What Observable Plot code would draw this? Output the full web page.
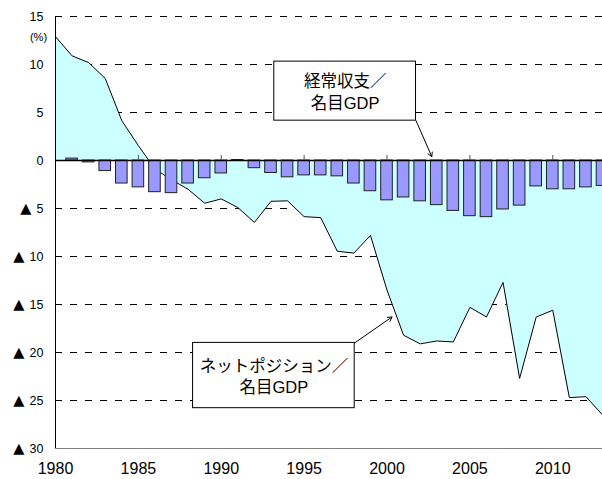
<!DOCTYPE html>
<html><head><meta charset="utf-8">
<script src="https://cdn.jsdelivr.net/npm/d3@7"></script>
<script src="https://cdn.jsdelivr.net/npm/@observablehq/plot@0.6"></script>
<style>
body{margin:0;background:#fff;}
#chart svg{display:block;}
</style>
</head><body><div id="chart"></div>
<script>
// ---- data ----
const years = [1980,1981,1982,1983,1984,1985,1986,1987,1988,1989,1990,1991,1992,1993,1994,1995,1996,1997,1998,1999,2000,2001,2002,2003,2004,2005,2006,2007,2008,2009,2010,2011,2012,2013];
// ネットポジション／名目GDP (%)
const netPosition = [12.9,10.9,10.2,8.55,4.15,1.55,-0.9,-2.0,-3.0,-4.45,-4.0,-4.9,-6.45,-4.25,-4.2,-5.85,-5.95,-9.45,-9.65,-7.8,-13.5,-18.2,-19.1,-18.8,-18.9,-15.3,-16.3,-12.7,-22.7,-16.3,-15.6,-24.7,-24.6,-26.5];
// 経常収支／名目GDP (%)
const currentAccount = [null,0.2,-0.2,-1.1,-2.4,-2.8,-3.3,-3.4,-2.4,-1.85,-1.35,0.05,-0.8,-1.3,-1.75,-1.55,-1.55,-1.65,-2.4,-3.2,-4.15,-3.85,-4.25,-4.65,-5.25,-5.8,-5.9,-5.1,-4.7,-2.7,-3.0,-3.0,-2.8,-2.65];
const xTicks = [1980,1985,1990,1995,2000,2005,2010];
const yTicks = [15,10,5,0,-5,-10,-15,-20,-25,-30];
const gridValues = [15,10,5,-5,-10,-15,-20,-25];
const unitLabel = "(%)";
const negMark = "▲";
// annotation boxes (data units) and arrow targets
const noteText = ["経常収支／\n名目GDP", "ネットポジション／\n名目GDP"];
const noteX1 = [1993.2, 1988.3];
const noteX2 = [2001.75, 1998.05];
const noteYTop = [10.3, -19.0];
const noteYBottom = [4.15, -25.8];
const arrowFromX = [2001.75, 1998.05];
const arrowFromY = [4.15, -19.0];
const arrowToX = [2002.7, 2000.3];
const arrowToY = [0.4, -16.3];

// ---- tables ----
const series = years.map((year, i) => ({year, np: netPosition[i], ca: currentAccount[i]}));
const bars = series.filter(d => d.ca != null);
const notes = noteText.map((text, i) => ({
  text, x1: noteX1[i], x2: noteX2[i], y1: noteYBottom[i], y2: noteYTop[i],
  ax1: arrowFromX[i], ay1: arrowFromY[i], ax2: arrowToX[i], ay2: arrowToY[i]
}));
const negOne = yTicks.filter(d => d < 0 && d > -10);
const negTwo = yTicks.filter(d => d <= -10);

const chart = Plot.plot({
  width: 602,
  height: 479,
  marginLeft: 55,
  marginRight: 0,
  marginTop: 16,
  marginBottom: 31,
  style: {fontFamily: "'Liberation Sans', Arial, 'Noto Sans CJK JP', sans-serif", color: "#000", background: "#fff"},
  x: {domain: [1980, 2013], axis: null},
  y: {domain: [-30, 15], axis: null},
  marks: [
    Plot.ruleY(gridValues, {stroke: "#000", strokeWidth: 1, strokeDasharray: "7,8"}),
    Plot.areaY(series, {x: "year", y1: 0, y2: "np", fill: "#CCFFFF"}),
    Plot.line(series, {x: "year", y: "np", stroke: "#000", strokeWidth: 1}),
    Plot.rectY(bars, {x1: d => d.year - 0.35, x2: d => d.year + 0.35, y: "ca", fill: "#9999FF", stroke: "#222", strokeWidth: 1, clip: true}),
    Plot.ruleY([0], {stroke: "#000", strokeWidth: 1.5}),
    Plot.ruleX(xTicks.filter(d => d > 1980), {x: d => d, y1: 0, y2: 0, insetBottom: 5, stroke: "#555"}),
    Plot.ruleX([1980], {stroke: "#000", strokeWidth: 1}),
    Plot.ruleY([-30], {stroke: "#808080", strokeWidth: 1}),
    Plot.axisY({ticks: yTicks, tickSize: 0, tickPadding: 12, tickFormat: d => String(Math.abs(d)), fontSize: 12.5, label: null}),
    Plot.text(negOne, {x: 1980, y: d => d, text: () => negMark, dx: -24, textAnchor: "end", fontSize: 14.5, fontFamily: "'DejaVu Sans', sans-serif"}),
    Plot.text(negTwo, {x: 1980, y: d => d, text: () => negMark, dx: -31, textAnchor: "end", fontSize: 14.5, fontFamily: "'DejaVu Sans', sans-serif"}),
    Plot.axisX({ticks: xTicks, tickSize: 0, tickPadding: 14, tickFormat: d => String(d), fontSize: 16, label: null}),
    Plot.text([unitLabel], {x: 1980, y: 12.85, dx: -17, text: d => d, fontSize: 11}),
    Plot.rect(notes, {x1: "x1", x2: "x2", y1: "y1", y2: "y2", fill: "#fff", stroke: "#000", strokeWidth: 1}),
    Plot.text(notes, {x: d => (d.x1 + d.x2) / 2, y: d => (d.y1 + d.y2) / 2, text: "text", fontSize: 16.5, lineHeight: 1.3, fontFamily: "'Liberation Sans', 'Noto Sans CJK JP', sans-serif"}),
    Plot.arrow(notes, {x1: "ax1", y1: "ay1", x2: "ax2", y2: "ay2", stroke: "#000", strokeWidth: 1, headLength: 7})
  ]
});
document.getElementById("chart").appendChild(chart);
</script>
</body></html>
